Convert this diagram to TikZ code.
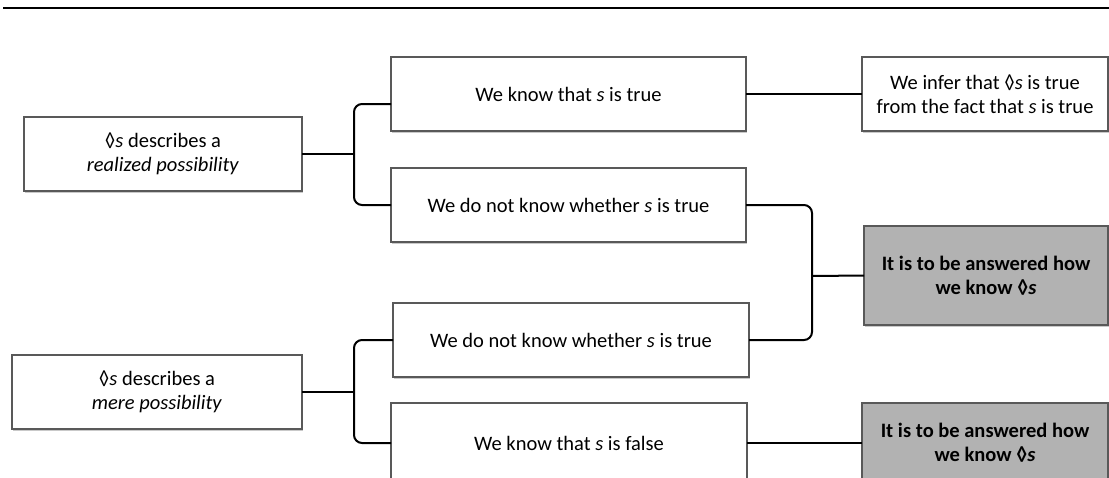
\documentclass[tikz,border=0pt]{standalone}
\usepackage{fontspec}
\setmainfont{Carlito}
\usetikzlibrary{shadows}

\newcommand{\dm}{\char"25CA}

\tikzset{
  box/.style={draw=black!65, line width=1.2pt, fill=white, inner sep=0pt, outer sep=0pt,
    align=center, font=\fontsize{20.5}{24}\selectfont,
    drop shadow={shadow xshift=1.2pt, shadow yshift=-1.5pt, opacity=0.3, fill=black!70}},
  answer/.style={box, fill=black!30, font=\fontsize{20.5}{24}\selectfont\bfseries},
  link/.style={line width=2pt, rounded corners=8pt}
}

\begin{document}
\begin{tikzpicture}[x=1pt,y=-1pt]
\clip (0,0) rectangle (1109,477);

% rule at the top
\coordinate (ruleL) at (3,8);
\coordinate (ruleR) at (1109,8);
\draw[line width=2.5pt] (ruleL) -- (ruleR);

% left column
\node[box, minimum width=278pt, minimum height=74pt] (realized) at (163,154)
  {\dm\textit{s} describes a\\\textit{realized possibility}};
\node[box, minimum width=290pt, minimum height=74pt] (mere) at (157,392)
  {\dm\textit{s} describes a\\\textit{mere possibility}};

% middle column
\node[box, minimum width=355pt, minimum height=74pt] (knowTrue) at (568.5,94)
  {We know that \textit{s} is true};
\node[box, minimum width=355pt, minimum height=74pt] (unknownA) at (568.5,205)
  {We do not know whether \textit{s} is true};
\node[box, minimum width=356pt, minimum height=74pt] (unknownB) at (571,340)
  {We do not know whether \textit{s} is true};
\node[box, minimum width=356pt, minimum height=80pt] (knowFalse) at (569,443)
  {We know that \textit{s} is false};

% right column
\node[box, minimum width=246pt, minimum height=74pt] (inferred) at (985,94)
  {We infer that \dm\textit{s} is true\\from the fact that \textit{s} is true};
\node[answer, minimum width=244pt, minimum height=99pt] (answerA) at (986,275.5)
  {It is to be answered how\\we know \dm\textit{s}};
\node[answer, minimum width=246pt, minimum height=80pt] (answerB) at (985,443)
  {It is to be answered how\\we know \dm\textit{s}};

% brackets
\coordinate (splitA) at (354,154);
\coordinate (splitB) at (812,276);
\coordinate (splitC) at (354,392);

\draw[link] (realized.east) -- (splitA);
\draw[link] ([yshift=-10pt]knowTrue.west) -| (splitA) |- (unknownA.west);
\draw[link] (knowTrue.east) -- (inferred.west);

\draw[link] (unknownA.east) -| (splitB) |- (unknownB.east);
\draw[link] (splitB) -- (answerA.west);

\draw[link] (mere.east) -- (splitC);
\draw[link] (unknownB.west) -| (splitC) |- (knowFalse.west);
\draw[link] (knowFalse.east) -- (answerB.west);
\end{tikzpicture}
\end{document}
